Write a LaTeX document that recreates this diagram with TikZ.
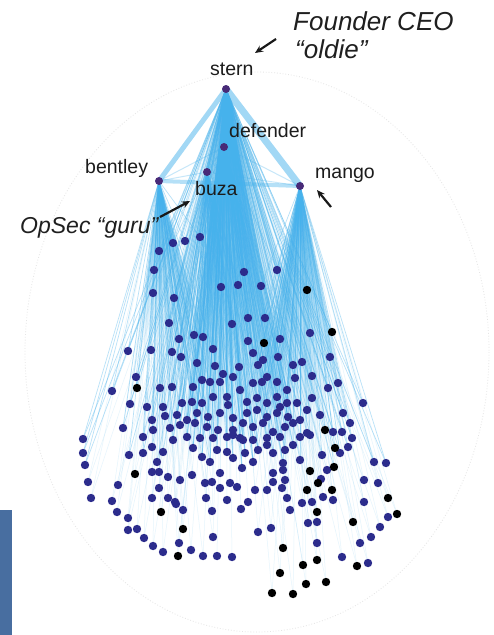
\documentclass[tikz,border=0pt]{standalone}
\usepackage{fontspec}
\setmainfont{Liberation Sans}
\usetikzlibrary{arrows.meta,fadings}
\definecolor{edgeblue}{RGB}{70,178,236}
\definecolor{dotnavy}{RGB}{44,44,140}
\definecolor{hubviolet}{RGB}{72,42,120}
\definecolor{sidebar}{RGB}{72,110,160}
\definecolor{labelgray}{RGB}{28,28,28}

% opaque at the top, clear at the bottom
\tikzfading[name=conefade, top color=transparent!0, middle color=transparent!8, bottom color=transparent!100]

% member nodes of the network (navy)
\def\navydots{159/251, 173/243, 185/241, 200/237, 154/270,
244/272, 277/270, 153/293, 221/287, 238/285, 261/286,
174/298, 169/323, 232/324, 248/318, 265/318,
310/333, 194/335, 203/337, 179/339, 248/341,
280/339, 128/351, 151/350, 172/352, 213/349, 181/357, 253/353, 263/360, 278/357, 330/357, 197/363, 215/366, 239/367, 258/365, 293/365, 302/362, 136/377,
112/391, 160/388, 172/387, 193/387, 202/380, 210/382, 220/382, 223/374, 233/377, 240/390, 253/383, 262/382, 267/377, 277/382, 287/390, 295/378, 312/376, 328/388, 338/383,
130/404, 147/407, 163/407, 182/403, 192/402, 202/403, 213/397, 227/397, 228/405, 247/402, 257/398, 267/403, 277/397, 280/407, 287/403, 297/403, 312/398, 363/403,
152/420, 165/416, 177/415, 187/420, 197/413, 208/417, 220/413, 233/418, 247/413, 257/410, 267/417, 277/413, 288/417, 300/420, 307/410, 320/415, 343/413, 350/423,
123/428, 153/430, 170/428, 180/425, 195/423, 207/427, 218/430, 233/430, 243/423, 253/427, 263/423, 273/432, 285/427, 293/423,
333/432, 342/432, 352/438, 83/439, 143/437, 187/437, 200/438, 213/438, 227/437, 240/438, 253/440, 267/438, 280/437, 300/437, 310/435,
83/453, 85/465, 88/482, 91/498, 112/501, 117/512, 128/518, 128/530, 137/529, 144/538, 153/546, 163/552,
191/550, 203/556, 217/556, 232/557, 179/543,
183/510, 213/537, 212/511, 241/509, 248/502, 258/532, 271/528,
317/543, 342/557, 368/563, 360/543, 371/537, 380/527, 388/517,
364/502, 378/483, 364/480, 386/463, 374/462, 317/522, 308/523,
312/502, 302/503, 290/510, 287/498, 323/497, 333/500, 321/479, 327/470,
340/453, 348/447, 322/455, 300/460, 283/470, 273/473, 283/463, 282/488, 267/490, 255/490, 273/482, 285/450, 293/445,
237/487, 230/483, 220/488, 227/500, 206/498, 205/483, 212/482, 192/475, 180/480, 168/477, 159/488, 152/498, 168/498, 175/502, 159/472, 152/472,
118/485, 129/455, 143/453, 152/447, 163/452, 157/462, 173/440, 193/448, 202/457, 210/462, 220/473, 217/450, 227/452, 233/458, 242/468, 245/453, 253/462, 258/450, 267/445, 273/453, 243/440, 233/435, 285/480, 307/433, 176/504}

% member nodes of the network (black)
\def\blackdots{307/290, 332/332, 264/343, 137/388, 325/430, 335/448,
161/512, 183/529, 178/556, 135/474, 283/548, 280/573, 272/593, 293/594,
306/584, 326/582, 303/565, 317/560, 357/566, 397/514, 388/498, 353/522,
317/512, 332/490, 307/490, 318/483, 310/471, 334/467}

% links from the hubs to every member of one list (#1), named with prefix #2
\newcommand\memberlinks[2]{%
  \foreach \x/\y [count=\i] in #1 {
    \ifdim\y pt<470pt
      \draw[edge] (stern) -- (#2\i);
      \ifdim\x pt<215pt \draw[edge] (bentley) -- (#2\i); \fi
      \ifdim\x pt>250pt \draw[edge] (mango) -- (#2\i); \fi
      \ifdim\x pt>175pt \ifdim\x pt<300pt \draw[edge] (defender) -- (#2\i); \fi\fi
      \ifdim\x pt>165pt \ifdim\x pt<260pt \draw[edge] (buza) -- (#2\i); \fi\fi
    \else
      \draw[faintedge] (stern) -- (#2\i);
      \ifdim\x pt<215pt \draw[faintedge] (bentley) -- (#2\i); \fi
      \ifdim\x pt>250pt \draw[faintedge] (mango) -- (#2\i); \fi
    \fi
  }%
}

\begin{document}
\begin{tikzpicture}[x=1pt,y=-1pt,
  dot/.style={circle,inner sep=0pt,minimum size=8.4pt,draw=none,fill=dotnavy},
  blackdot/.style={dot,fill=black},
  hub/.style={circle,inner sep=0pt,minimum size=8pt,draw=none,fill=hubviolet},
  edge/.style={draw=edgeblue,line width=0.7pt,draw opacity=0.38},
  faintedge/.style={draw=edgeblue,line width=0.5pt,draw opacity=0.14},
  band/.style={draw=edgeblue,line cap=round,draw opacity=0.5},
  cone/.style={fill=edgeblue,path fading=conefade},
  lbl/.style={font=\fontsize{19.5}{20}\selectfont,text=labelgray,inner sep=0pt,anchor=base west},
  note/.style={font=\fontsize{26}{27}\selectfont\itshape,text=black!88,inner sep=0pt,anchor=base west},
  pointer/.style={-{Stealth[length=8pt,width=7pt]},line width=2.2pt,black!90}]

\useasboundingbox (0,0) rectangle (493,635);
\fill[white] (0,0) rectangle (493,635);

% faint outline around the layout
\draw[gray!20,dotted,line width=0.8pt] (257,352) ellipse [x radius=232, y radius=280];

% side bar
\fill[sidebar] (0,510) rectangle (12,635);

% hub positions
\coordinate (stern) at (226,89);
\coordinate (defender) at (224,147);
\coordinate (buza) at (207,172);
\coordinate (bentley) at (159,181);
\coordinate (mango) at (300,186);

% member positions
\foreach \x/\y [count=\i] in \navydots { \coordinate (n\i) at (\x,\y); }
\foreach \x/\y [count=\i] in \blackdots { \coordinate (b\i) at (\x,\y); }

% dense bundles of links, seen as solid cones
\fill[cone,fill opacity=0.35] (stern) -- (130,460) -- (345,460) -- cycle;
\fill[cone,fill opacity=0.9] (stern) -- (180,450) -- (298,450) -- cycle;
\fill[cone,fill opacity=0.7] (stern) -- (192,360) -- (276,360) -- cycle;
\fill[cone,fill opacity=0.8] (bentley) -- (138,350) -- (208,350) -- cycle;
\fill[cone,fill opacity=0.85] (mango) -- (260,410) -- (345,410) -- cycle;

% hub to hub links
\draw[band,line width=5pt] (stern) -- (bentley);
\draw[band,line width=7pt] (stern) -- (mango);
\draw[band,line width=4pt,draw opacity=0.4] (bentley) -- (mango);
\draw[band,line width=2pt] (stern) -- (defender);
\draw[band,line width=2pt] (stern) -- (buza);
\draw[band,line width=1pt,draw opacity=0.3] (bentley) -- (defender);
\draw[band,line width=1pt,draw opacity=0.3] (bentley) -- (buza);
\draw[band,line width=1pt,draw opacity=0.3] (defender) -- (mango);
\draw[band,line width=1pt,draw opacity=0.3] (buza) -- (mango);
\draw[band,line width=1pt,draw opacity=0.3] (defender) -- (buza);

% hub to member links
\memberlinks{\navydots}{n}
\memberlinks{\blackdots}{b}

% member dots
\foreach \x/\y [count=\i] in \navydots { \node[dot] (nd\i) at (n\i) {}; }
\foreach \x/\y [count=\i] in \blackdots { \node[blackdot] (bd\i) at (b\i) {}; }

% hub dots
\foreach \h in {stern,defender,buza,bentley,mango}{ \node[hub] (\h dot) at (\h) {}; }

% hub labels
\node[lbl] (sternlbl) at (210,75) {stern};
\node[lbl] (defenderlbl) at (229,137) {defender};
\node[lbl] (bentleylbl) at (85,173) {bentley};
\node[lbl] (buzalbl) at (195,195) {buza};
\node[lbl] (mangolbl) at (315,178) {mango};

% annotations
\node[note] (founder) at (293,30) {Founder CEO};
\node[note] (oldie) at (295,58) {“oldie”};
\node[note,font=\fontsize{23}{24}\selectfont\itshape] (opsec) at (20,233) {OpSec “guru”};

\coordinate (fa) at (276,39);
\coordinate (fb) at (255,53);
\draw[pointer] (fa) -- (fb);
\coordinate (oa) at (160,217);
\coordinate (ob) at (190,201);
\draw[pointer] (oa) -- (ob);
\coordinate (ma) at (331,207);
\coordinate (mb) at (317,190);
\draw[pointer] (ma) -- (mb);
\end{tikzpicture}
\end{document}
